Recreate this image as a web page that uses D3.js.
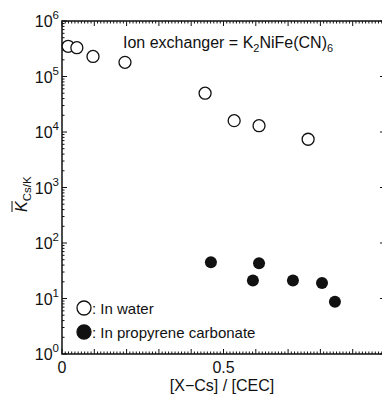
<!DOCTYPE html>
<html><head><meta charset="utf-8">
<script src="https://cdn.jsdelivr.net/npm/d3@7/dist/d3.min.js"></script>
<style>body{margin:0;background:#fff;}svg{display:block;font-family:"Liberation Sans",Arial,sans-serif;}</style>
</head><body><svg id="c" width="382" height="401"></svg>
<script>
const waterX = [0.019, 0.046, 0.096, 0.195, 0.443, 0.533, 0.610, 0.762];
const waterK = [3.5e5, 3.3e5, 2.3e5, 1.8e5, 5.0e4, 1.6e4, 1.3e4, 7.4e3];
const pcX = [0.461, 0.591, 0.610, 0.715, 0.805, 0.845];
const pcK = [45, 21, 43, 21, 19, 8.7];
const xTickLabels = [0, 0.5];
const yTickExps = [0, 1, 2, 3, 4, 5, 6];
const legendLabels = [": In water", ": In propyrene carbonate"];

const svg = d3.select("#c");
const L = 62, R = 385, T = 21, B = 354;
const x = d3.scaleLinear().domain([0, 1]).range([L, R]);
const y = d3.scaleLog().domain([1, 1e6]).range([B, T]);
const col = "#111";

// minor/major ticks
const g = svg.append("g").attr("stroke", col).attr("stroke-width", 1);
const xMinor = d3.range(0, 101).map(i => i / 100);
xMinor.forEach((v, i) => {
  const len = i % 10 === 0 ? 5 : 2.5;
  g.append("line").attr("x1", x(v)).attr("x2", x(v)).attr("y1", B).attr("y2", B - len);
  g.append("line").attr("x1", x(v)).attr("x2", x(v)).attr("y1", T).attr("y2", T + len);
});
const yTicks = [];
for (let e = 0; e < 6; e++) for (let m = 1; m < 10; m++) yTicks.push(m * Math.pow(10, e));
yTicks.push(1e6);
yTicks.forEach(v => {
  const major = Math.abs(Math.log10(v) - Math.round(Math.log10(v))) < 1e-9;
  const len = major ? 5 : 2.5;
  g.append("line").attr("x1", L).attr("x2", L + len).attr("y1", y(v)).attr("y2", y(v));
  g.append("line").attr("x1", R).attr("x2", R - len).attr("y1", y(v)).attr("y2", y(v));
});

// frame
svg.append("rect").attr("x", L).attr("y", T).attr("width", R - L).attr("height", B - T)
  .attr("fill", "none").attr("stroke", col).attr("stroke-width", 1.5);

// y tick labels
yTickExps.forEach(e => {
  const t = svg.append("text").attr("x", 59).attr("y", y(Math.pow(10, e)) + 6)
    .attr("text-anchor", "end").attr("font-size", 16).attr("fill", col);
  t.append("tspan").text("10");
  t.append("tspan").attr("dy", -8).attr("font-size", 11.5).text(e);
});
// x tick labels
xTickLabels.forEach(v => {
  svg.append("text").attr("x", x(v)).attr("y", 373).attr("text-anchor", "middle")
    .attr("font-size", 16).attr("fill", col).text(v === 0 ? "0" : d3.format(".1f")(v));
});

// x title
svg.append("text").attr("x", 222).attr("y", 391).attr("text-anchor", "middle")
  .attr("font-size", 16).attr("fill", col).text("[X\u2212Cs] / [CEC]");

// y title
const yt = svg.append("text").attr("transform", "translate(27,212) rotate(-90)")
  .attr("font-size", 16).attr("fill", col);
yt.append("tspan").attr("font-style", "italic").text("K");
yt.append("tspan").attr("dy", 4).attr("font-size", 11.5).text("Cs/K");
svg.append("line").attr("x1", 12).attr("x2", 12).attr("y1", 212).attr("y2", 201)
  .attr("stroke", col).attr("stroke-width", 1);

// annotation
const an = svg.append("text").attr("x", 123).attr("y", 48).attr("font-size", 16).attr("fill", col);
an.append("tspan").text("Ion exchanger = K");
an.append("tspan").attr("dy", 4).attr("font-size", 11).text("2");
an.append("tspan").attr("dy", -4).text("NiFe(CN)");
an.append("tspan").attr("dy", 4).attr("font-size", 11).text("6");

// data
svg.append("g").selectAll("circle").data(waterX.map((v, i) => [v, waterK[i]])).join("circle")
  .attr("cx", d => x(d[0])).attr("cy", d => y(d[1])).attr("r", 6)
  .attr("fill", "#fff").attr("stroke", col).attr("stroke-width", 1.3);
svg.append("g").selectAll("circle").data(pcX.map((v, i) => [v, pcK[i]])).join("circle")
  .attr("cx", d => x(d[0])).attr("cy", d => y(d[1])).attr("r", 6)
  .attr("fill", col);

// legend
legendLabels.forEach((lab, i) => {
  const cy = 308 + i * 24;
  svg.append("circle").attr("cx", 84).attr("cy", cy).attr("r", 7)
    .attr("fill", i === 0 ? "#fff" : col).attr("stroke", col).attr("stroke-width", 1.3);
  svg.append("text").attr("x", 92).attr("y", cy + 5.5).attr("font-size", 15).attr("fill", col).text(lab);
});
</script></body></html>
